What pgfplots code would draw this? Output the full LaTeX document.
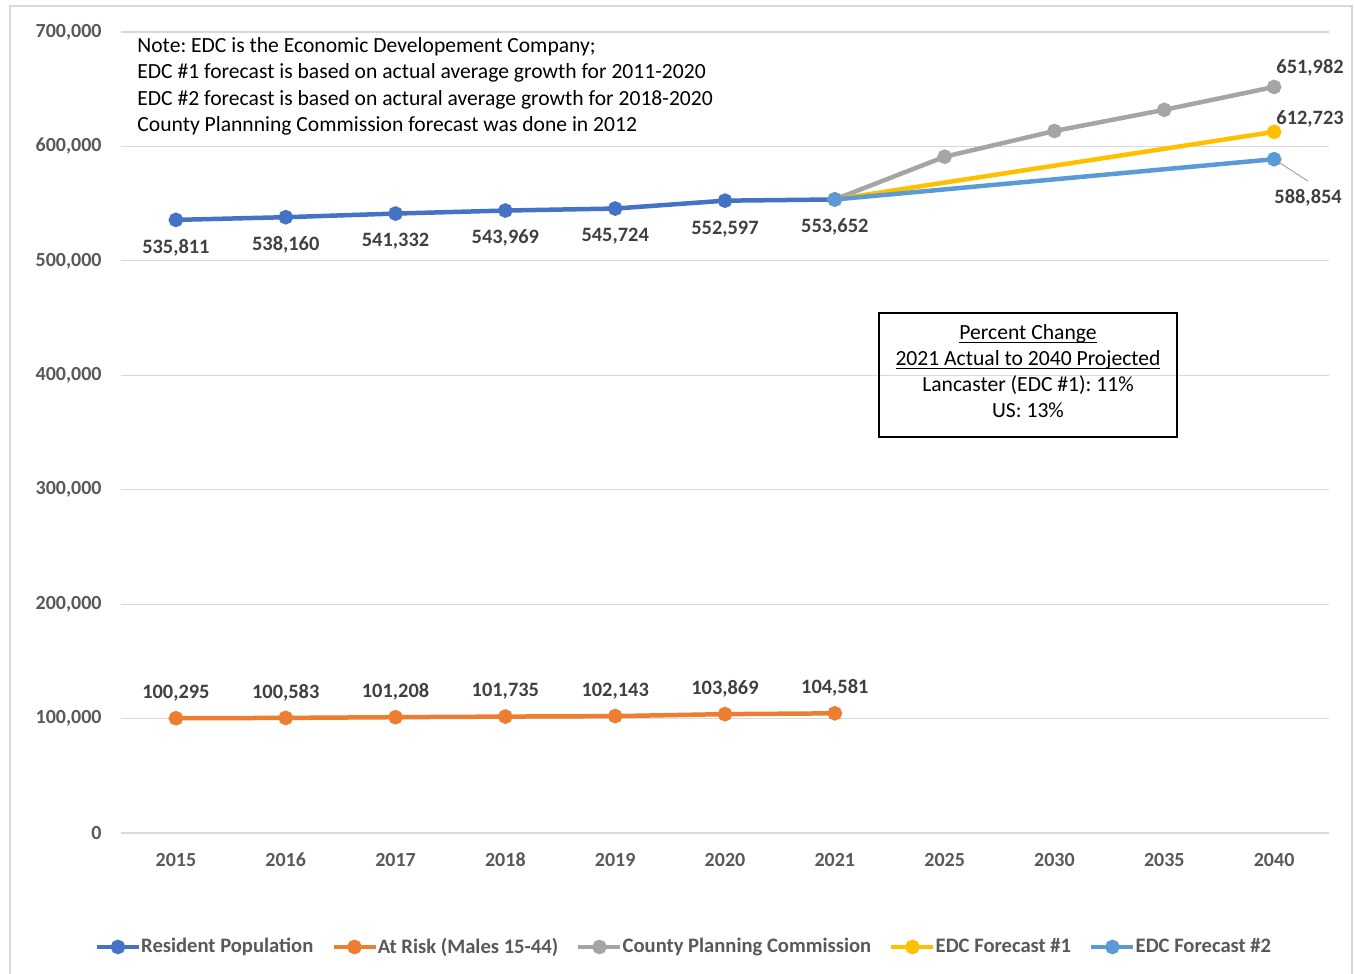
\documentclass[border=0pt]{standalone}
\usepackage{pgfplots}
\pgfplotsset{compat=1.18}
\usepackage{fontspec}
\setmainfont{Carlito}
\frenchspacing
\definecolor{cRes}{HTML}{4472C4}
\definecolor{cRisk}{HTML}{ED7D31}
\definecolor{cCPC}{HTML}{A5A5A5}
\definecolor{cE1}{HTML}{FFC000}
\definecolor{cE2}{HTML}{5B9BD5}
\definecolor{tickgray}{HTML}{595959}
\definecolor{labgray}{HTML}{404040}
\definecolor{gridgray}{HTML}{D9D9D9}
\newcommand{\myul}[1]{\setbox0\hbox{#1}\rlap{\rule[-1.7pt]{\wd0}{0.5pt}}#1}
\begin{document}
\begin{tikzpicture}
\useasboundingbox (0,0) rectangle (677pt,487pt);
\draw[gridgray, line width=0.6pt] (5pt,0pt) -- (5pt,484pt) -- (676pt,484pt) -- (676pt,0pt);
\begin{axis}[
  at={(60.5pt,70.5pt)}, anchor=south west,
  scale only axis, width=604pt, height=400.5pt,
  xmin=-0.5, xmax=10.5, ymin=0, ymax=700000,
  xtick={0,...,10},
  xticklabels={2015,2016,2017,2018,2019,2020,2021,2025,2030,2035,2040},
  ytick={0,100000,...,700000},
  scaled y ticks=false,
  /pgf/number format/.cd, fixed, precision=0, 1000 sep={,}, assume math mode=true,
  /pgfplots/.cd,
  ymajorgrids, grid style={gridgray, line width=0.6pt},
  axis line style={draw=none},
  major tick length=0pt,
  ticklabel style={font=\fontsize{10}{12}\selectfont\bfseries, text=tickgray, inner sep=0pt},
  yticklabel style={anchor=east, xshift=-9.5pt},
  xticklabel style={anchor=base, yshift=-16.5pt},
  clip=false,
  every axis plot/.append style={line width=2.25pt, mark=*, mark size=2.5pt},
  nodes near coords style={font=\fontsize{10.2}{12}\selectfont\bfseries, text=labgray, anchor=base, inner sep=0pt},
  legend style={at={(0.4652,-0.1423)}, anchor=center, draw=none, fill=none,
    legend columns=5, font=\fontsize{10.3}{12}\selectfont\bfseries, text=tickgray,
    /tikz/every even column/.append style={column sep=9pt},
    inner sep=0pt, nodes={inner sep=0pt, xshift=1pt}},
  legend cell align=left,
  legend image code/.code={\draw[#1, mark repeat=2, mark phase=2] plot coordinates {(0pt,0pt)(10.5pt,0pt)(21pt,0pt)};},
]
\addplot[color=cRes, mark options={fill=cRes, draw=cRes},
  nodes near coords, nodes near coords style={yshift=-16.7pt}]
  coordinates {(0,535811)(1,538160)(2,541332)(3,543969)(4,545724)(5,552597)(6,553652)};
\addlegendentry{Resident Population}
\addplot[color=cRisk, mark options={fill=cRisk, draw=cRisk},
  nodes near coords, nodes near coords style={yshift=9.8pt}]
  coordinates {(0,100295)(1,100583)(2,101208)(3,101735)(4,102143)(5,103869)(6,104581)};
\addlegendentry{At Risk (Males 15-44)}
\addplot[color=cCPC, mark options={fill=cCPC, draw=cCPC}]
  coordinates {(6,553652)(7,591000)(8,613500)(9,632000)(10,651982)};
\addlegendentry{County Planning Commission}
\addplot[color=cE1, mark options={fill=cE1, draw=cE1}]
  coordinates {(6,553652)(10,612723)};
\addlegendentry{EDC Forecast \#1}
\addplot[color=cE2, mark options={fill=cE2, draw=cE2}]
  coordinates {(6,553652)(10,588854)};
\addlegendentry{EDC Forecast \#2}
% end-point labels
\addplot[forget plot, draw=none, mark=none, nodes near coords, nodes near coords style={xshift=18pt, yshift=6.8pt}]
  coordinates {(10,651982)};
\addplot[forget plot, draw=none, mark=none, nodes near coords, nodes near coords style={xshift=18pt, yshift=3.8pt}]
  coordinates {(10,612723)};
\addplot[forget plot, draw=none, mark=none, nodes near coords, nodes near coords style={xshift=17pt, yshift=-22.2pt}]
  coordinates {(10,588854)};
\draw[cCPC, line width=0.5pt] (axis cs:10,588854) -- ++(17pt,-11pt);
\end{axis}
\node[anchor=north west, align=left, inner sep=0pt, font=\fontsize{10.8}{13.2}\selectfont] at (68.5pt,468.5pt)
 {Note: EDC is the Economic Developement Company;\\
  EDC \#1 forecast is based on actual average growth for 2011-2020\\
  EDC \#2 forecast is based on actural average growth for 2018-2020\\
  County Plannning Commission forecast was done in 2012};
\draw[black, line width=0.6pt] (439.5pt,330.5pt) rectangle (588.5pt,268.5pt);
\begin{scope}[every node/.style={anchor=base, inner sep=0pt, font=\fontsize{10.8}{13}\selectfont}]
\node at (514pt,317.1pt) {\myul{Percent Change}};
\node at (514pt,304.1pt) {\myul{2021 Actual to 2040 Projected}};
\node at (514pt,291.1pt) {Lancaster (EDC \#1): 11\%};
\node at (514pt,278.1pt) {US: 13\%};
\end{scope}
\end{tikzpicture}
\end{document}
